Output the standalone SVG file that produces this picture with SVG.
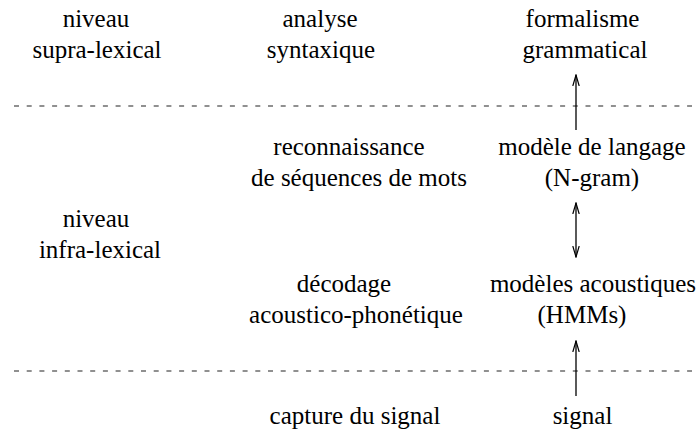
<svg xmlns="http://www.w3.org/2000/svg" width="700" height="436" viewBox="0 0 700 436">
<style>
text{font-family:'Liberation Serif','Times New Roman',Times,serif;font-size:25px;fill:#000;text-anchor:middle}
.sep{stroke:#222;stroke-width:1.2;stroke-dasharray:5 7.7;fill:none}
.arr{stroke:#000;stroke-width:1.3;fill:none}
</style>
<defs>
<marker id="ah" viewBox="0 0 12 8" refX="11" refY="4" markerWidth="12" markerHeight="8" markerUnits="userSpaceOnUse" orient="auto-start-reverse">
<path d="M0,0.8 L11,4 L0,7.2" fill="none" stroke="#000" stroke-width="1.2"/>
</marker>
</defs>
<rect width="700" height="436" fill="#fff"/>
<g id="separators">
<line class="sep" x1="14" y1="106" x2="692" y2="106"/>
<line class="sep" x1="14" y1="371" x2="692" y2="371"/>
</g>
<g id="connectors">
<line class="arr" x1="576" y1="130" x2="576" y2="75" marker-end="url(#ah)"/>
<line class="arr" x1="576" y1="203" x2="576" y2="257" marker-start="url(#ah)" marker-end="url(#ah)"/>
<line class="arr" x1="576" y1="396" x2="576" y2="341" marker-end="url(#ah)"/>
</g>
<g id="niveau-supra"><text x="96" y="27">niveau</text><text x="97" y="58">supra-lexical</text></g>
<g id="analyse"><text x="320" y="27">analyse</text><text x="321" y="58">syntaxique</text></g>
<g id="formalisme"><text x="582.5" y="27">formalisme</text><text x="585" y="58">grammatical</text></g>
<g id="reconnaissance"><text x="349" y="155">reconnaissance</text><text x="359" y="186">de séquences de mots</text></g>
<g id="modele-langage"><text x="592" y="155">modèle de langage</text><text x="592" y="186">(N-gram)</text></g>
<g id="niveau-infra"><text x="96" y="227">niveau</text><text x="100" y="258">infra-lexical</text></g>
<g id="decodage"><text x="344" y="292">décodage</text><text x="356" y="323">acoustico-phonétique</text></g>
<g id="modeles-acoustiques"><text x="593" y="292">modèles acoustiques</text><text x="582" y="323">(HMMs)</text></g>
<g id="capture"><text x="355" y="424">capture du signal</text></g>
<g id="signal"><text x="582.5" y="424">signal</text></g>
</svg>
